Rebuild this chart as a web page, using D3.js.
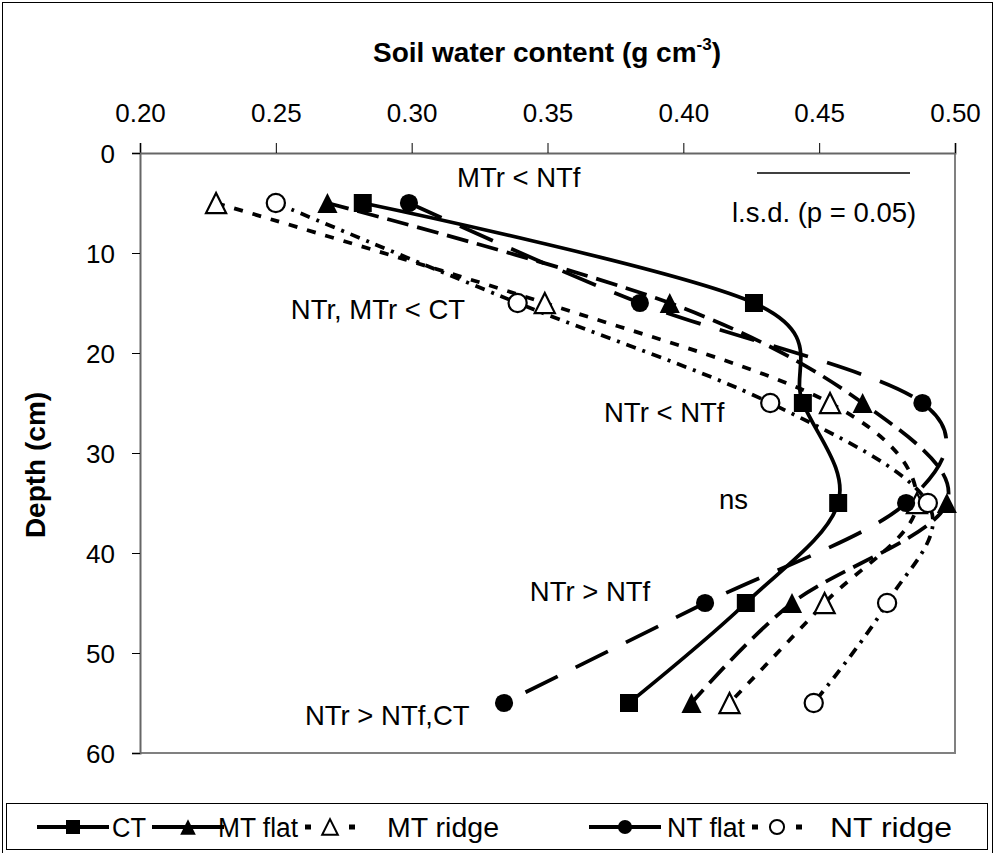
<!DOCTYPE html>
<html>
<head>
<meta charset="utf-8">
<script src="https://cdn.jsdelivr.net/npm/d3@7"></script>
<style>
  body { margin: 0; background: #fff; }
  svg { display: block; font-family: 'Liberation Sans', Arial, sans-serif; }
  .tick text { font-size: 26px; fill: #000; }
  .note { font-size: 27.5px; fill: #000; }
</style>
</head>
<body>
<div id="chart"></div>
<script>
// depth of each sampling layer (cm)
const depths = [5, 15, 25, 35, 45, 55];

// soil water content (g cm-3) per treatment
const ctValues = [0.282, 0.426, 0.444, 0.457, 0.423, 0.380];
const mtFlatValues = [0.269, 0.395, 0.466, 0.497, 0.440, 0.403];
const mtRidgeValues = [0.228, 0.349, 0.454, 0.486, 0.452, 0.417];
const ntFlatValues = [0.299, 0.384, 0.488, 0.482, 0.408, 0.334];
const ntRidgeValues = [0.250, 0.339, 0.432, 0.490, 0.475, 0.448];

const seriesNames = ['CT', 'MT flat', 'MT ridge', 'NT flat', 'NT ridge'];
const xTicks = [0.20, 0.25, 0.30, 0.35, 0.40, 0.45, 0.50];
const yTicks = [0, 10, 20, 30, 40, 50, 60];

const noteTexts = ['MTr < NTf', 'NTr, MTr < CT', 'NTr < NTf', 'ns', 'NTr > NTf', 'NTr > NTf,CT'];
const lsdText = 'l.s.d. (p = 0.05)';

const width = 995;
const height = 853;

const svg = d3.select('#chart')
  .append('svg')
  .attr('width', width)
  .attr('height', height);

// outer chart frame
svg.append('rect')
  .attr('x', 2.5).attr('y', 2.5)
  .attr('width', 990).attr('height', 870)
  .attr('fill', 'none').attr('stroke', '#000').attr('stroke-width', 1);

const x = d3.scaleLinear().domain([0.2, 0.5]).range([140, 955]);
const y = d3.scaleLinear().domain([0, 60]).range([153, 753]);

// plot area border (right and bottom in grey)
svg.append('path')
  .attr('d', `M${x(0.2)},${y(60)}H${x(0.5)}V${y(0)}`)
  .attr('fill', 'none').attr('stroke', '#808080').attr('stroke-width', 2);

const xAxis = svg.append('g')
  .attr('transform', `translate(0,${y(0)})`)
  .call(d3.axisTop(x).tickValues(xTicks).tickFormat(d3.format('.2f')).tickSize(10).tickPadding(21));

const yAxis = svg.append('g')
  .attr('transform', `translate(${x(0.2)},0)`)
  .call(d3.axisLeft(y).tickValues(yTicks).tickSize(8).tickPadding(17));

[xAxis, yAxis].forEach(a => {
  a.attr('font-family', null).attr('font-size', null);
  a.select('.domain').attr('stroke', '#666').attr('stroke-width', 2);
  a.selectAll('.tick line').attr('stroke', '#000');
});
yAxis.selectAll('.tick text').attr('dy', '0.38em');

// axis titles
const title = svg.append('text')
  .attr('x', 547).attr('y', 62)
  .attr('text-anchor', 'middle')
  .attr('font-weight', 'bold')
  .attr('font-size', 28);
title.append('tspan').text('Soil water content (g cm');
title.append('tspan').attr('font-size', 17).attr('dy', -12).text('-3');
title.append('tspan').attr('dy', 12).text(')');

svg.append('text')
  .attr('transform', 'translate(45,465) rotate(-90)')
  .attr('text-anchor', 'middle')
  .attr('font-weight', 'bold')
  .attr('font-size', 28)
  .text('Depth (cm)');

// marker shapes
const triangle = {
  draw(ctx, size) {
    const s = Math.sqrt(size) / 2;
    ctx.moveTo(0, -s);
    ctx.lineTo(s, s);
    ctx.lineTo(-s, s);
    ctx.closePath();
  }
};

const series = [
  { name: seriesNames[0], values: ctValues, dash: null, shape: d3.symbolSquare, fill: '#000', scale: 1 },
  { name: seriesNames[1], values: mtFlatValues, dash: '22,9', shape: triangle, fill: '#000', scale: 1.25 },
  { name: seriesNames[2], values: mtRidgeValues, dash: '9,10', shape: triangle, fill: '#fff', scale: 1.25 },
  { name: seriesNames[3], values: ntFlatValues, dash: '36,20', shape: d3.symbolCircle, fill: '#000', scale: 0.8 },
  { name: seriesNames[4], values: ntRidgeValues, dash: '10,7,3,7', shape: d3.symbolCircle, fill: '#fff', scale: 0.8 }
];

const line = d3.line()
  .x(d => x(d.v))
  .y(d => y(d.depth))
  .curve(d3.curveCardinal.tension(0));

const symbolPath = (s, side) => d3.symbol().type(s.shape).size(side * side * s.scale)();

const plot = svg.append('g');

series.forEach(s => {
  const pts = depths.map((depth, i) => ({ depth, v: s.values[i] }));
  plot.append('path')
    .datum(pts)
    .attr('d', line)
    .attr('fill', 'none')
    .attr('stroke', '#000')
    .attr('stroke-width', 3.75)
    .attr('stroke-dasharray', s.dash);
});

series.forEach(s => {
  const pts = depths.map((depth, i) => ({ depth, v: s.values[i] }));
  plot.selectAll(null)
    .data(pts)
    .enter()
    .append('path')
    .attr('transform', d => `translate(${x(d.v)},${y(d.depth)})`)
    .attr('d', symbolPath(s, 18))
    .attr('fill', s.fill)
    .attr('stroke', '#000')
    .attr('stroke-width', s.fill === '#fff' ? 2.2 : 0);
});

// significance notes, placed at (water content, depth) of their baseline start
const notePos = [[0.3167, 3.4], [0.2555, 16.6], [0.3708, 26.9], [0.4131, 35.6], [0.3435, 44.8], [0.2607, 57.2]];
notePos.forEach((p, i) => {
  svg.append('text')
    .attr('class', 'note')
    .attr('x', x(p[0]))
    .attr('y', y(p[1]))
    .text(noteTexts[i]);
});

// l.s.d. bar
svg.append('line')
  .attr('x1', 757).attr('x2', 910)
  .attr('y1', 173).attr('y2', 173)
  .attr('stroke', '#000').attr('stroke-width', 1.5);
svg.append('text')
  .attr('class', 'note')
  .attr('x', 732).attr('y', 222)
  .text(lsdText);

// legend
const legend = svg.append('g');
legend.append('rect')
  .attr('x', 6.5).attr('y', 803.5)
  .attr('width', 981).attr('height', 46)
  .attr('fill', '#fff').attr('stroke', '#000');

const legendX = [73, 188, 330, 625, 777];
const legendTextX = [112, 218, 387, 667, 830];
const legendTextLen = [34, 80, 112, 78, 122];
series.forEach((s, i) => {
  const cy = 827;
  const ridge = s.fill === '#fff';
  legend.append('line')
    .attr('x1', legendX[i] - (ridge ? 25 : 36)).attr('x2', legendX[i] + (ridge ? 25 : 36))
    .attr('y1', cy).attr('y2', cy)
    .attr('stroke', '#000').attr('stroke-width', ridge ? 5 : 4)
    .attr('stroke-dasharray', ridge ? '6,38,6' : null);
  legend.append('path')
    .attr('transform', `translate(${legendX[i]},${cy})`)
    .attr('d', symbolPath(s, 14))
    .attr('fill', s.fill)
    .attr('stroke', '#000')
    .attr('stroke-width', ridge ? 2 : 0);
  legend.append('text')
    .attr('x', legendTextX[i]).attr('y', cy + 10)
    .attr('font-size', 27)
    .attr('textLength', legendTextLen[i])
    .attr('lengthAdjust', 'spacingAndGlyphs')
    .text(s.name);
});
</script>
</body>
</html>
